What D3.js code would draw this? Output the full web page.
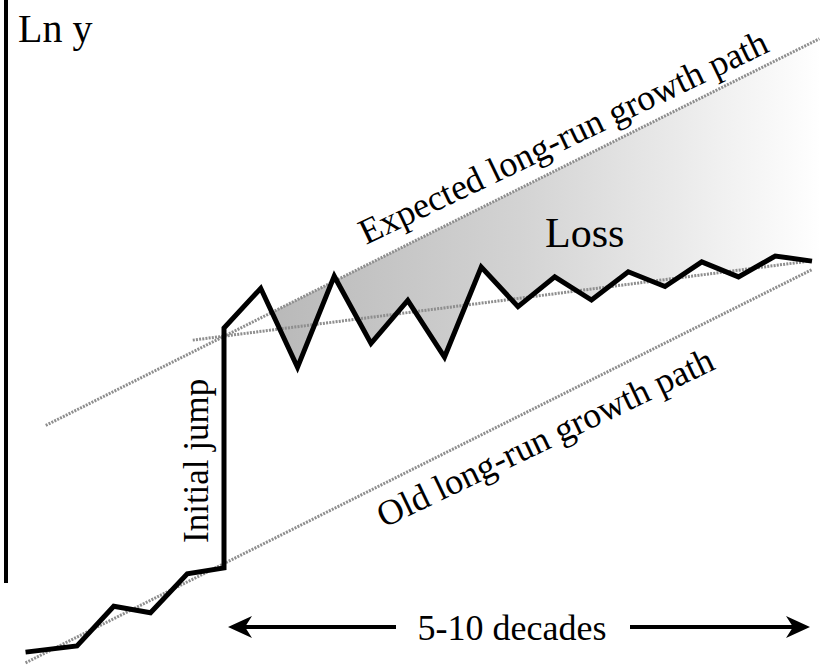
<!DOCTYPE html>
<html>
<head>
<meta charset="utf-8">
<script src="https://cdn.jsdelivr.net/npm/d3@7"></script>
<style>
  html, body { margin: 0; padding: 0; background: #fff; }
  svg { display: block; }
  text { font-family: "Liberation Serif", "Times New Roman", serif; fill: #000; }
</style>
</head>
<body>
<div id="chart"></div>
<script>
// ---- data (time in periods, ln y in arbitrary units) ----
const pathT = [-5.4, -4, -3, -2, -1, 0, 0, 1, 2, 3, 4, 5, 6, 7, 8, 9, 10, 11, 12, 13, 14, 15, 16];
const pathLnY = [0.35, 0.52, 1.6, 1.42, 2.48, 2.64, 9.17, 10.25, 8.1, 10.58, 8.75, 9.92, 8.38, 10.83, 9.75, 10.56, 9.93, 10.7, 10.3, 10.97, 10.56, 11.13, 10.99];

const oldPathT = [-5.4, 16];
const oldPathLnY = [0.06, 10.76];
const expectedPathT = [-4.85, 16.2];
const expectedPathLnY = [6.52, 17.04];
const newTrendT = [-0.85, 16];
const newTrendLnY = [8.84, 11.0];

const labels = {
  yAxis: "Ln y",
  expected: "Expected long-run growth path",
  old: "Old long-run growth path",
  jump: "Initial jump",
  loss: "Loss",
  span: "5-10 decades"
};

// ---- setup ----
const W = 829, H = 665;
const svg = d3.select("#chart").append("svg").attr("width", W).attr("height", H);

const x = d3.scaleLinear().domain([-6, 16]).range([3.5, 812]);
const y = d3.scaleLinear().domain([0, 18]).range([665, 3.5]);

const zip = (ts, vs) => ts.map((t, i) => ({ t, v: vs[i] }));
const line = d3.line().x(d => x(d.t)).y(d => y(d.v));

const pathData = zip(pathT, pathLnY);

// expected line as function
const expSlope = (expectedPathLnY[1] - expectedPathLnY[0]) / (expectedPathT[1] - expectedPathT[0]);
const expAt = t => expectedPathLnY[0] + expSlope * (t - expectedPathT[0]);

// first crossing of actual path below expected after the jump
let tCross = null, iCross = null;
for (let i = 7; i < pathData.length - 1; i++) {
  const a = pathData[i], b = pathData[i + 1];
  const da = a.v - expAt(a.t), db = b.v - expAt(b.t);
  if (da >= 0 && db < 0) {
    tCross = a.t + (b.t - a.t) * da / (da - db);
    iCross = i + 1;
    break;
  }
}
const tEnd = pathT[pathT.length - 1];

// gradient
const defs = svg.append("defs");
const grad = defs.append("linearGradient")
  .attr("id", "lossGrad")
  .attr("gradientUnits", "userSpaceOnUse")
  .attr("x1", x(tCross)).attr("x2", x(tEnd) + 10)
  .attr("y1", 0).attr("y2", 0);
grad.append("stop").attr("offset", "0%").attr("stop-color", "#b9b9b9");
grad.append("stop").attr("offset", "45%").attr("stop-color", "#d3d3d3");
grad.append("stop").attr("offset", "100%").attr("stop-color", "#ffffff");

// loss area polygon
const poly = [{ t: tCross, v: expAt(tCross) }, { t: tEnd + 0.2, v: expAt(tEnd + 0.2) }, { t: tEnd + 0.2, v: pathLnY[pathLnY.length - 1] }];
for (let i = pathData.length - 1; i >= iCross; i--) poly.push(pathData[i]);
svg.append("path")
  .attr("d", line(poly) + "Z")
  .attr("fill", "url(#lossGrad)")
  .attr("stroke", "none");

// dotted trend lines
const dotted = (ts, vs) => svg.append("path")
  .attr("d", line(zip(ts, vs)))
  .attr("fill", "none")
  .attr("stroke", "#8e8e8e")
  .attr("stroke-width", 3)
  .attr("stroke-dasharray", "2,1.2");
dotted(oldPathT, oldPathLnY);
dotted(expectedPathT, expectedPathLnY);
dotted(newTrendT, newTrendLnY);

// actual path
svg.append("path")
  .attr("d", line(pathData))
  .attr("fill", "none")
  .attr("stroke", "#000")
  .attr("stroke-width", 5)
  .attr("stroke-linejoin", "miter")
  .attr("stroke-miterlimit", 10);

// y axis line
svg.append("line")
  .attr("x1", 6).attr("x2", 6).attr("y1", 0).attr("y2", 583)
  .attr("stroke", "#000").attr("stroke-width", 4);

svg.append("text").attr("x", 18).attr("y", 42)
  .attr("font-size", 40).text(labels.yAxis);

// rotated labels
const angle = -25.6;
svg.append("text")
  .attr("transform", `translate(366,245) rotate(${angle})`)
  .attr("font-size", 36).text(labels.expected);
svg.append("text")
  .attr("transform", `translate(384,528) rotate(${angle})`)
  .attr("font-size", 36).text(labels.old);
svg.append("text")
  .attr("transform", `translate(208,543) rotate(-90)`)
  .attr("font-size", 35).text(labels.jump);
svg.append("text").attr("x", 545).attr("y", 247)
  .attr("font-size", 42).text(labels.loss);

// span arrows
const ay = 627;
const leftTip = x(0) + 4, rightTip = x(tEnd) - 2;
svg.append("line").attr("x1", leftTip + 10).attr("x2", 396).attr("y1", ay).attr("y2", ay)
  .attr("stroke", "#000").attr("stroke-width", 4);
svg.append("line").attr("x1", 630).attr("x2", rightTip - 10).attr("y1", ay).attr("y2", ay)
  .attr("stroke", "#000").attr("stroke-width", 4);
svg.append("path")
  .attr("d", `M${leftTip},${ay} L${leftTip + 24},${ay - 11} L${leftTip + 17},${ay} L${leftTip + 24},${ay + 11} Z`)
  .attr("fill", "#000");
svg.append("path")
  .attr("d", `M${rightTip},${ay} L${rightTip - 24},${ay - 11} L${rightTip - 17},${ay} L${rightTip - 24},${ay + 11} Z`)
  .attr("fill", "#000");
svg.append("text").attr("x", 512).attr("y", 640)
  .attr("text-anchor", "middle").attr("font-size", 36).text(labels.span);
</script>
</body>
</html>
